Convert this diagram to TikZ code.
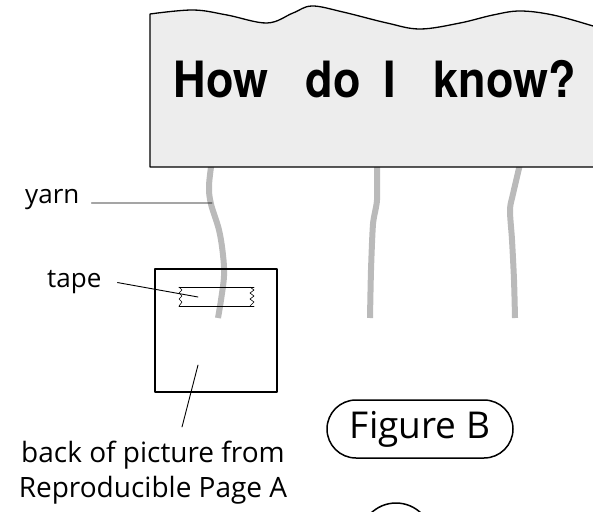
\documentclass[tikz,border=0pt]{standalone}
\usepackage{fontspec}
\setmainfont{Open Sans}
\newfontfamily\headfont{TeX Gyre Heros}
\tikzset{
	yarn/.style={line width=6pt,color=black!27,line cap=butt},
	lbl/.style={inner sep=0pt,font=\fontsize{26}{30}\selectfont},
	leader/.style={line width=0.9pt},
}
\begin{document}
\begin{tikzpicture}[>=stealth,line join=round,line cap=round,x=1pt,y=-1pt]
				\tikzset{declare function={
						x1=0;x2=593;y1=0;y2=511;
				}}
				\useasboundingbox (x1,y1)rectangle(x2,y2);
				\begin{scope}
					\clip (x1,y1)rectangle(x2,y2);
					% yarn under the sign
					\draw[yarn] plot[smooth,tension=.6] coordinates {(212,160) (209,186) (211,204) (219,230) (223,255) (224,276) (221,300) (218,318)};
					\draw[yarn] plot[smooth,tension=.4] coordinates {(377,160) (377,200) (373,224) (371,270) (370,318)};
					\draw[yarn] plot[smooth,tension=.5] coordinates {(521,160) (513,194) (510,210) (512,240) (514,280) (515,318)};
					% the sign
					\filldraw[fill=black!7,line width=1.3pt] plot[smooth,tension=.6] coordinates {(150,14) (193,10) (227,15) (267,23) (293,13) (312,6) (343,12) (387,23) (420,29) (460,23) (493,15) (520,11) (553,15) (593,26) (610,32)}
						--(610,167)--(150,167)--cycle;
					% next circle, cut off
					\draw[line width=1.5pt] (396,539)circle(36);
				\end{scope}
				\foreach \w/\xx/\nm in {How/221/how,do/333/do,I/390/i,know?/505/know}{
					\node[anchor=base,inner sep=0pt,xscale=.9,font=\headfont\bfseries\fontsize{50}{56}\selectfont] (\nm) at (\xx,97) {\w};
				}
				% picture and tape
				\draw[line width=1.5pt] (155,269)rectangle(277,392);
				\draw[line width=.8pt] (179,287)--(254,287) (179,306)--(254,306);
				\foreach \xa/\xb in {179/182,250/254}{
					\draw[line width=.6pt] (\xa,287)--(\xb,290)--(\xa,293)--(\xb,296)--(\xa,299)--(\xb,302)--(\xa,306);
				}
				\path (212,203)coordinate (yarnpt) (198,297)coordinate (tapept) (198,365)coordinate (backpt);
				\node[lbl,anchor=base west] (yarnlbl) at (25,203) {yarn};
				\node[lbl,anchor=base west] (tapelbl) at (47,287) {tape};
				\node[inner sep=0pt,anchor=base,align=center,font=\fontsize{28}{35}\selectfont] (backlbl) at (153,497) {back of picture from\\Reproducible Page A};
				\draw[leader] (182,427)coordinate (backend)--(backpt);
				\draw[leader] ([xshift=12pt,yshift=-4pt]yarnlbl.east)--(yarnpt);
				\draw[leader] ([xshift=16pt,yshift=-1pt]tapelbl.east)--(tapept);
				% label of the figure
				\node[draw,line width=1.5pt,rounded corners=29pt,minimum width=186pt,minimum height=58pt,font=\fontsize{37}{40}\selectfont] (figb) at (420,429) {Figure B};
			\end{tikzpicture}
\end{document}
